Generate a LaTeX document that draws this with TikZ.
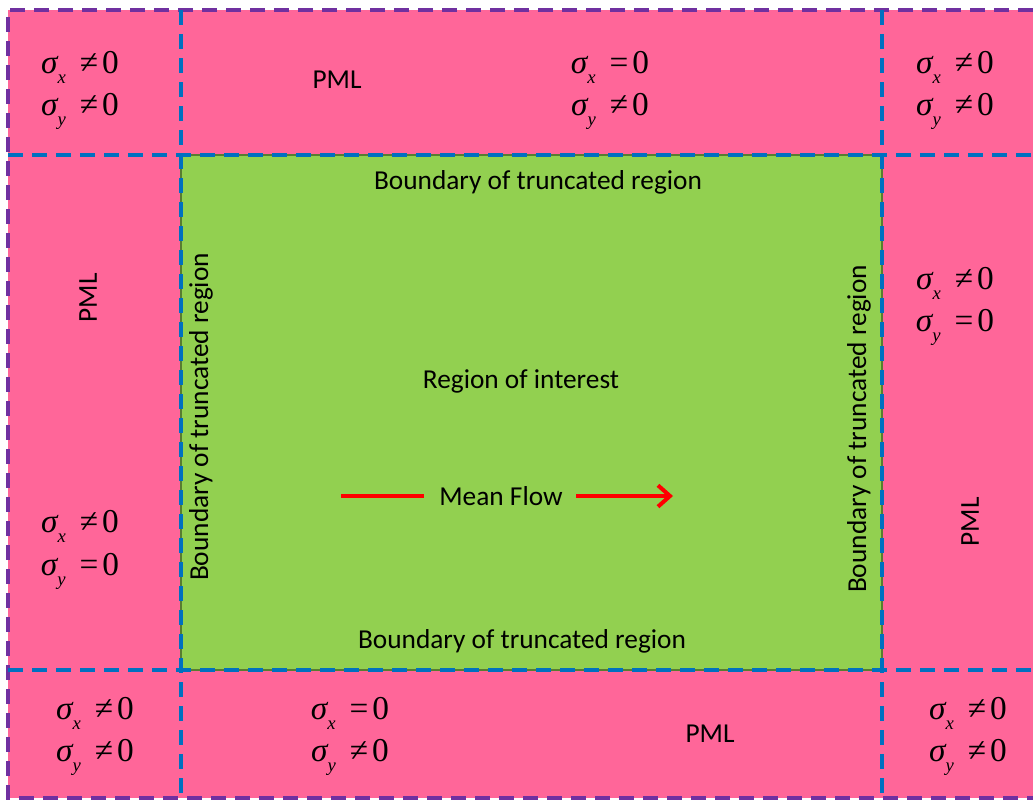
\documentclass[tikz,border=0pt]{standalone}
\usepackage{fontspec}
\setmainfont{Carlito}
\newfontfamily\tms{Liberation Serif}
\usetikzlibrary{arrows.meta}
\definecolor{pml}{HTML}{FF6699}
\definecolor{roi}{HTML}{92D050}
\definecolor{bluedash}{HTML}{0070C0}
\definecolor{purpledash}{HTML}{7030A0}
\definecolor{flow}{HTML}{FF0000}
\newcommand{\sgm}[2]{{\itshape σ}\raisebox{-0.32em}{\fontsize{14}{14}\selectfont\itshape #1}\hspace{0.42em}#2\hspace{0.12em}0}
\tikzset{
  sig/.style={font=\tms\fontsize{25}{28}\selectfont, inner sep=0pt, yshift=-4pt},
  lbl/.style={font=\fontsize{20.5}{24}\selectfont, inner sep=0pt},
  bdash/.style={draw=bluedash, line width=3pt, dash pattern=on 11pt off 7pt},
  pdash/.style={draw=purpledash, line width=2.6pt, dash pattern=on 11pt off 7pt},
  flowline/.style={draw=flow, line width=3pt},
}
\begin{document}
\begin{tikzpicture}[x=0.75pt,y=-0.75pt]
\useasboundingbox (0,0) rectangle (1033,800);
\fill[white] (0,0) rectangle (1033,800);
\fill[pml] (8,10) rectangle (1033,798);
\draw[fill=roi, draw=roi!60!black, line width=0.8pt] (181,155) rectangle (882,670);
% dashed lines
\draw[pdash] (1033,10) -- (8,10) -- (8,798) -- (1033,798);
\draw[bdash] (181,10) -- (181,798);
\draw[bdash] (882,10) -- (882,798);
\draw[bdash] (8,155) -- (1033,155);
\draw[bdash] (8,670) -- (1033,670);
% top row
\node[sig] (tl1) at (80,62) {\sgm{x}{≠}};
\node[sig] (tl2) at (80,106) {\sgm{y}{≠}};
\node[lbl] (tpml) at (337,80) {PML};
\node[sig] (tm1) at (610,62) {\sgm{x}{=}};
\node[sig] (tm2) at (610,106) {\sgm{y}{≠}};
\node[sig] (tr1) at (955,62) {\sgm{x}{≠}};
\node[sig] (tr2) at (955,106) {\sgm{y}{≠}};
% middle row
\node[lbl, rotate=90] (lpml) at (88,298) {PML};
\node[sig] (ml1) at (80,521) {\sgm{x}{≠}};
\node[sig] (ml2) at (80,566) {\sgm{y}{=}};
\node[sig] (mr1) at (955,278) {\sgm{x}{≠}};
\node[sig] (mr2) at (955,322) {\sgm{y}{=}};
\node[lbl, rotate=90] (rpml) at (970,522) {PML};
% bottom row
\node[sig] (bl1) at (95,708) {\sgm{x}{≠}};
\node[sig] (bl2) at (95,752) {\sgm{y}{≠}};
\node[sig] (bm1) at (350,708) {\sgm{x}{=}};
\node[sig] (bm2) at (350,752) {\sgm{y}{≠}};
\node[lbl] (bpml) at (710,734) {PML};
\node[sig] (br1) at (968,708) {\sgm{x}{≠}};
\node[sig] (br2) at (968,752) {\sgm{y}{≠}};
% green region
\node[lbl] (btop) at (538,182) {Boundary of truncated region};
\node[lbl] (bbot) at (522,641) {Boundary of truncated region};
\node[lbl, rotate=90] (bleft) at (201,417) {Boundary of truncated region};
\node[lbl, rotate=90] (bright) at (859,429) {Boundary of truncated region};
\node[lbl] (roi) at (521,381) {Region of interest};
\node[lbl] (mf) at (501,496) {Mean Flow};
\coordinate (fs) at (341,496);
\coordinate (fe) at (673,496);
\draw[flowline] (fs) -- ([xshift=-11pt]mf.west);
\draw[flowline, -{Straight Barb[length=9pt,width=16pt,line width=3pt]}] ([xshift=10pt]mf.east) -- (fe);
\end{tikzpicture}
\end{document}
